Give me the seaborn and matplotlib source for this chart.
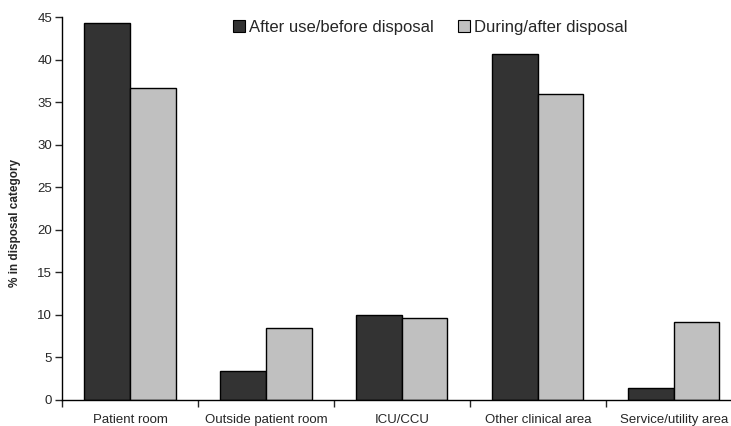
import matplotlib
matplotlib.use("Agg")
import matplotlib.pyplot as plt
import seaborn as sns
import pandas as pd
import numpy as np

categories = ["Patient room", "Outside patient room", "ICU/CCU", "Other clinical area", "Service/utility area"]
after_use = [44.3, 3.4, 10.0, 40.6, 1.4]
during_after = [36.7, 8.5, 9.6, 35.9, 9.2]
series = ["After use/before disposal", "During/after disposal"]

df = pd.DataFrame({
    "category": categories * 2,
    "value": after_use + during_after,
    "series": [series[0]] * len(categories) + [series[1]] * len(categories),
})

sns.set_theme(style="white")
plt.rcParams['font.family'] = ['Liberation Sans', 'DejaVu Sans']

W, H = 731, 426
fig = plt.figure(figsize=(W / 100, H / 100), dpi=100)
ax = fig.add_axes([62 / W, 26 / H, 1 - 62 / W, (400 - 17) / H])

sns.barplot(data=df, x="category", y="value", hue="series", order=categories,
            hue_order=series, palette=["#333333", "#c0c0c0"], edgecolor="black",
            linewidth=1, width=0.67, gap=0, ax=ax, saturation=1)

ax.set_ylim(0, 45)
ax.set_yticks(np.arange(0, 46, 5))
ax.set_xlabel("")
ax.set_ylabel("% in disposal category", fontsize=8.5, fontweight="bold")
ax.yaxis.set_label_coords(-0.061, 0.462)
ax.tick_params(axis="y", which="major", direction="out", length=5, width=1, labelsize=9.5, left=True, pad=2)
ax.tick_params(axis="x", which="major", length=0, labelsize=9.5, pad=10)
ax.set_xticks(np.arange(-0.5, 5, 1), minor=True)
ax.tick_params(axis="x", which="minor", direction="out", length=5, width=1, bottom=True)
for s in ["top", "right"]:
    ax.spines[s].set_visible(False)
for s in ["left", "bottom"]:
    ax.spines[s].set_color("black")
    ax.spines[s].set_linewidth(1)

leg = ax.legend(loc="upper center", bbox_to_anchor=(430 / W, 1 - 20 / H),
                bbox_transform=fig.transFigure, ncol=2, frameon=False,
                fontsize=12, handlelength=0.72, handleheight=0.72, handletextpad=0.25,
                columnspacing=1.45, borderaxespad=0, borderpad=0)
for h in leg.legend_handles:
    h.set_linewidth(0.8)

ax.set_autoscale_on(False)
ax.set_xlim(-0.5, 4.42)

fig.savefig("out.png", dpi=100)
